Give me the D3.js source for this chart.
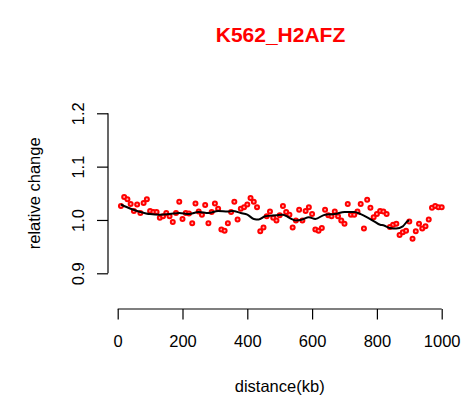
<!DOCTYPE html>
<html>
<head>
<meta charset="utf-8">
<script src="https://cdn.jsdelivr.net/npm/d3@7"></script>
<style>
  body { margin: 0; background: #fff; }
  text { font-family: "Liberation Sans", Arial, sans-serif; }
</style>
</head>
<body>
<script>
// distance bins (kb) for the red points
var distance = d3.range(1, 101).map(function(i){ return i * 10; });
// relative change per bin
var relChange = [
  1.026, 1.043, 1.039, 1.030, 1.017, 1.029, 1.013, 1.032, 1.039, 1.017,
  1.015, 1.015, 1.004, 1.007, 1.013, 1.007, 0.996, 1.013, 1.034, 1.002,
  1.013, 1.012, 0.994, 1.031, 1.016, 1.010, 1.028, 0.994, 1.015, 1.031,
  1.021, 0.982, 0.980, 0.994, 1.015, 1.034, 1.001, 1.021, 1.024, 1.029,
  1.041, 1.034, 1.024, 0.979, 0.986, 1.007, 1.016, 1.004, 0.999, 1.009,
  1.026, 1.015, 1.010, 0.986, 0.999, 1.019, 0.999, 1.017, 1.024, 1.011,
  0.982, 0.980, 0.985, 1.019, 1.009, 1.007, 1.016, 1.007, 0.999, 0.993,
  1.030, 1.010, 1.010, 1.016, 1.030, 0.984, 1.038, 1.023, 1.005, 1.011,
  1.017, 1.016, 1.011, 0.987, 0.991, 0.993, 0.972, 0.977, 0.980, 0.997,
  0.965, 0.979, 0.993, 0.984, 0.988, 1.001, 1.023, 1.026, 1.024, 1.024
];
// smoothed trend (black line)
var smoothX = [10, 40, 70, 100, 130, 160, 190, 220, 250, 280, 310, 340, 355, 380, 400,
               420, 435, 455, 490, 510, 530, 550, 570, 590, 610, 640, 670, 700, 730,
               750, 770, 790, 810, 820, 840, 860, 880, 895, 900];
var smoothY = [1.029, 1.021, 1.015, 1.011, 1.010, 1.011, 1.013, 1.011, 1.015, 1.013, 1.017,
               1.016, 1.017, 1.013, 1.010, 1.002, 1.001, 1.007, 1.009, 1.010, 1.004, 0.999,
               1.001, 1.005, 1.002, 1.010, 1.011, 1.015, 1.015, 1.011, 1.005, 0.998, 0.991,
               0.990, 0.985, 0.984, 0.988, 0.998, 0.999];
var xTicks = [0, 200, 400, 600, 800, 1000];
var yTicks = [0.9, 1.0, 1.1, 1.2];

var w = 472, h = 404;

var x = d3.scaleLinear().domain([0, 1000]).range([117.7, 441.7]);
var y = d3.scaleLinear().domain([0.9, 1.2]).range([273.3, 113.3]);

var svg = d3.select('body').append('svg')
            .attr('width', w)
            .attr('height', h);

// title
svg.append('text')
   .attr('x', 280.5)
   .attr('y', 41.7)
   .attr('text-anchor', 'middle')
   .style('font-size', '21px')
   .style('font-weight', 'bold')
   .style('fill', '#ff0000')
   .text('K562_H2AFZ');

// x axis (R style, detached from plot region)
var xAxis = svg.append('g')
   .attr('transform', 'translate(0,309)')
   .call(d3.axisBottom(x).tickValues(xTicks).tickSize(10.5).tickPadding(16)
         .tickFormat(d3.format('d')));
xAxis.select('.domain').attr('d', 'M' + x(0) + ',0H' + x(1000));
xAxis.selectAll('text').style('font-size', '16.5px').style('fill', '#000')
   .attr('dy', null).attr('y', 38.3);
xAxis.selectAll('path, line').attr('stroke', '#000').attr('stroke-width', 1.2);

var yAxis = svg.append('g')
   .attr('transform', 'translate(108,0)')
   .call(d3.axisLeft(y).tickValues(yTicks).tickSize(11)
         .tickFormat(d3.format('.1f')));
yAxis.select('.domain').attr('d', 'M0,' + y(0.9) + 'V' + y(1.2));
yAxis.selectAll('path, line').attr('stroke', '#000').attr('stroke-width', 1.2);
yAxis.selectAll('text')
   .style('font-size', '16.5px').style('fill', '#000')
   .attr('x', null).attr('dy', null)
   .attr('text-anchor', 'middle')
   .attr('transform', 'translate(-24.5,0) rotate(-90)');

// axis titles
svg.append('text')
   .attr('x', x(500))
   .attr('y', 391.5)
   .attr('text-anchor', 'middle')
   .style('font-size', '16.5px')
   .text('distance(kb)');

svg.append('text')
   .attr('text-anchor', 'middle')
   .attr('transform', 'translate(40,' + y(1.05) + ') rotate(-90)')
   .style('font-size', '16.5px')
   .text('relative change');

// points
svg.append('g').selectAll('circle')
   .data(distance)
   .enter()
   .append('circle')
   .attr('cx', function(d){ return x(d); })
   .attr('cy', function(d, i){ return y(relChange[i]); })
   .attr('r', 2)
   .attr('fill', '#ffb0b0')
   .attr('stroke', '#ff0000')
   .attr('stroke-width', 2);

// smoothed line
var line = d3.line()
   .x(function(d, i){ return x(smoothX[i]); })
   .y(function(d){ return y(d); })
   .curve(d3.curveMonotoneX);

svg.append('path')
   .datum(smoothY)
   .attr('d', line)
   .attr('fill', 'none')
   .attr('stroke', '#000')
   .attr('stroke-width', 2);
</script>
</body>
</html>
